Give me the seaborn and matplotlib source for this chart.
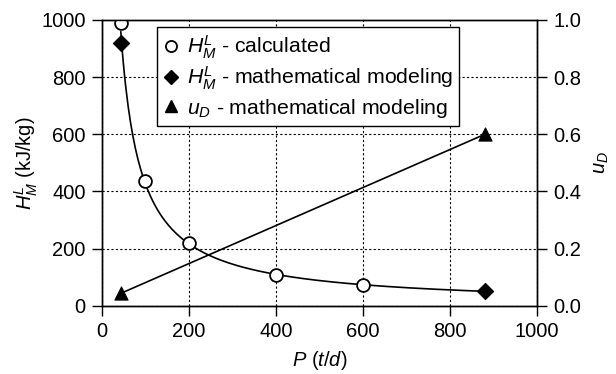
import numpy as np
import pandas as pd
import matplotlib
matplotlib.use("Agg")
import matplotlib.pyplot as plt
from matplotlib.lines import Line2D
import seaborn as sns

# datos
p_calc = [44, 100, 200, 400, 600]
h_calc = [988, 438, 219, 108, 73]

p_model = [44, 880]
h_model = [920, 52]

p_ud = [44, 880]
u_d = [0.044, 0.60]

sns.set_theme(style="ticks")
plt.rcParams['font.family'] = ['Liberation Sans', 'DejaVu Sans']
plt.rcParams['mathtext.fontset'] = 'custom'
plt.rcParams['mathtext.rm'] = 'Liberation Sans'
plt.rcParams['mathtext.it'] = 'Liberation Sans:italic'
plt.rcParams['font.size'] = 14
plt.rcParams['text.color'] = 'black'
plt.rcParams['axes.labelcolor'] = 'black'

fig = plt.figure(figsize=(6.16, 3.74), dpi=100)
ax = fig.add_axes([0.165, 0.182, 0.707, 0.765])
ax2 = ax.twinx()

# ajuste potencial H = a * P^b (recta en log-log) sobre todos los puntos de H
p_all = np.array(p_calc + p_model, dtype=float)
h_all = np.array(h_calc + h_model, dtype=float)
b, loga = np.polyfit(np.log(p_all), np.log(h_all), 1)
p_fit = np.linspace(min(p_all), max(p_all), 300)
df_fit = pd.DataFrame({'P': p_fit, 'H': np.exp(loga) * p_fit ** b})

sns.lineplot(data=df_fit, x='P', y='H', ax=ax, color='black', lw=1.2, zorder=2)
sns.scatterplot(x=p_model, y=h_model, ax=ax, marker='D', s=70, color='black',
                edgecolor='black', zorder=3)
sns.scatterplot(x=p_calc, y=h_calc, ax=ax, marker='o', s=85, facecolor='white',
                edgecolor='black', linewidth=1.3, zorder=4)

sns.lineplot(x=p_ud, y=u_d, ax=ax2, color='black', lw=1.2, zorder=2)
sns.scatterplot(x=p_ud, y=u_d, ax=ax2, marker='^', s=90, color='black',
                edgecolor='black', zorder=3)

ax.set_xlim(0, 1000)
ax.set_ylim(0, 1000)
ax2.set_ylim(0, 1.0)
ax.set_xticks(range(0, 1001, 200))
ax.set_yticks(range(0, 1001, 200))
ax2.set_yticks(np.arange(0, 1.01, 0.2))
ax2.set_yticklabels([f"{v:.1f}" for v in np.arange(0, 1.01, 0.2)])

ax.grid(True, color='black', linestyle=(0, (2, 2)), linewidth=0.8)
ax.set_axisbelow(True)

for a in (ax, ax2):
    for s in a.spines.values():
        s.set_color('black')
        s.set_linewidth(1.0)
    a.tick_params(direction='out', length=7.5, width=1.0, colors='black',
                  labelsize=14.5, pad=4)

ax.set_xlabel(r"$P$ ($t/d$)", fontsize=14.5, labelpad=6)
ax.set_ylabel(r"$H_M^L$ (kJ/kg)", fontsize=14.5, labelpad=1)
ax2.set_ylabel(r"$u_D$", fontsize=14.5, labelpad=8)

handles = [
    Line2D([], [], ls='none', marker='o', ms=8, mfc='white', mec='black', mew=1.3),
    Line2D([], [], ls='none', marker='D', ms=7, mfc='black', mec='black'),
    Line2D([], [], ls='none', marker='^', ms=8, mfc='black', mec='black'),
]
labels = [r"$H_M^L$ - calculated", r"$H_M^L$ - mathematical modeling",
          r"$u_D$ - mathematical modeling"]
leg = ax2.legend(handles, labels, loc='upper left', bbox_to_anchor=(0.127, 0.975),
                 frameon=True, fancybox=False, framealpha=1, edgecolor='black',
                 fontsize=15.3, handlelength=0.7, handletextpad=0.4,
                 borderpad=0.3, labelspacing=0.2, borderaxespad=0)
leg.get_frame().set_linewidth(1.0)

fig.savefig('out.png', dpi=100)
